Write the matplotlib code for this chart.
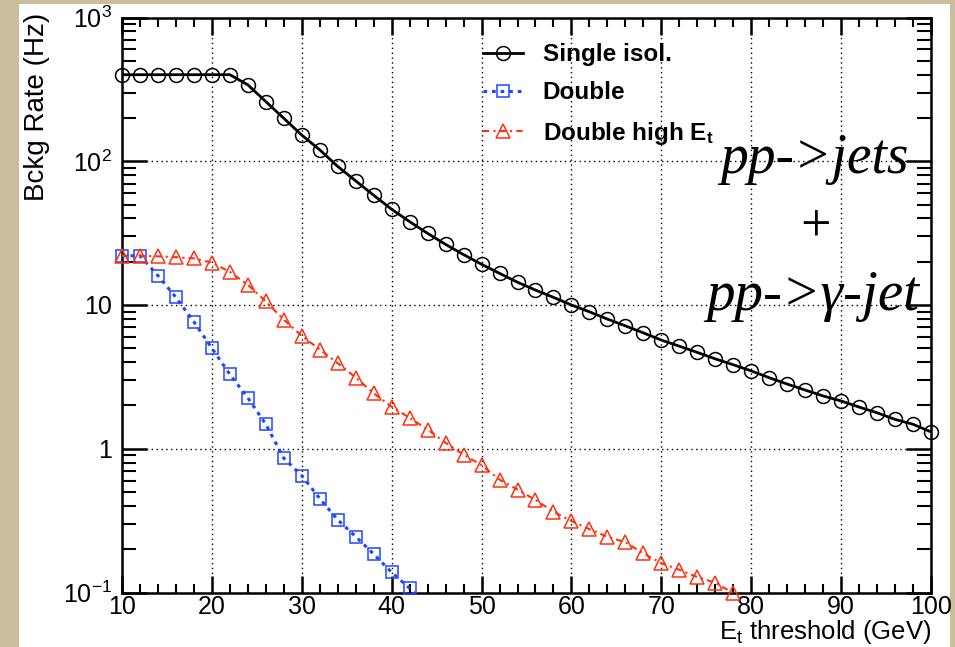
import numpy as np
import matplotlib
matplotlib.use('Agg')
import matplotlib.pyplot as plt
from matplotlib.patches import Rectangle
from matplotlib.ticker import FixedLocator, LogLocator, MultipleLocator, NullFormatter

plt.rcParams['font.family'] = ['Liberation Sans', 'DejaVu Sans']
plt.rcParams['mathtext.fontset'] = 'custom'
plt.rcParams['mathtext.rm'] = 'Liberation Sans'
plt.rcParams['mathtext.bf'] = 'Liberation Sans:bold'
plt.rcParams['mathtext.it'] = 'Liberation Sans:italic'

# thresholds (GeV)
et = np.arange(10, 101, 2)

single_isol = [400, 400, 400, 400, 400, 400, 400, 340, 260, 199,
               152, 120, 92, 73, 58, 46.3, 38, 31.5, 26.4, 22.4,
               19.2, 16.6, 14.4, 12.7, 11.3, 10.0, 8.97, 7.98, 7.16, 6.4,
               5.7, 5.17, 4.68, 4.22, 3.84, 3.48, 3.12, 2.82, 2.56, 2.33,
               2.15, 1.95, 1.78, 1.6, 1.48, 1.31]

double = [22, 22, 16, 11.3, 7.64, 5.0, 3.29, 2.26, 1.48, 0.86,
          0.65, 0.45, 0.32, 0.245, 0.185, 0.138, 0.107, 0.078]

double_high = [22, 22, 21.8, 21.5, 21.1, 19.7, 17.0, 13.8, 10.6, 7.9,
               6.1, 4.9, 3.94, 3.13, 2.43, 1.96, 1.64, 1.36, 1.1, 0.91,
               0.77, 0.61, 0.52, 0.44, 0.365, 0.314, 0.276, 0.244, 0.224, 0.187,
               0.16, 0.144, 0.128, 0.117, 0.099]

ytick_vals = [0.1, 1, 10, 100, 1000]
ytick_labels = [r'$\mathregular{10^{-1}}$', '1', '10', r'$\mathregular{10^{2}}$', r'$\mathregular{10^{3}}$']

BLUE = '#1f45ff'
RED = '#ff3010'

fig = plt.figure(figsize=(9.55, 6.47), dpi=100)
fig.patch.set_facecolor('#cbbd9b')
fig.patches.append(Rectangle((19 / 955, 0), 931 / 955, 643 / 647, transform=fig.transFigure,
                             facecolor='white', edgecolor='none', zorder=-10))

ax = fig.add_axes([122 / 955, 54.5 / 647, 809 / 955, 575 / 647])
ax.set_yscale('log')
ax.set_xlim(10, 100)
ax.set_ylim(0.1, 1000)


def series(x, y, color, ls, lw, marker, ms):
    x = np.asarray(x)
    y = np.asarray(y)
    line, = ax.plot(x, y, color=color, ls=ls, lw=lw, zorder=3)
    keep = y >= 0.098
    mk, = ax.plot(x[keep], y[keep], ls='none', marker=marker, ms=ms, mfc='none',
                  mec=color, mew=1.1, clip_on=False, zorder=4)
    return (line, mk)


h1 = series(et, single_isol, 'black', '-', 2.0, 'o', 10)
h2 = series(et[:len(double)], double, BLUE, (0, (1.2, 1.6)), 2.2, 's', 9)
h3 = series(et[:len(double_high)], double_high, RED, (0, (3, 2, 1, 2)), 1.5, '^', 10)

# axes styling
for s in ax.spines.values():
    s.set_linewidth(1.8)
ax.xaxis.set_major_locator(MultipleLocator(10))
ax.xaxis.set_minor_locator(MultipleLocator(2))
ax.yaxis.set_major_locator(FixedLocator(ytick_vals))
ax.yaxis.set_minor_locator(LogLocator(base=10, subs=np.arange(2, 10)))
ax.yaxis.set_minor_formatter(NullFormatter())
ax.set_yticklabels(ytick_labels)
ax.tick_params(which='both', direction='in', top=True, right=True, labelsize=18)
ax.tick_params(axis='y', which='major', length=18, width=1.8, pad=7)
ax.tick_params(axis='y', which='minor', length=10, width=1.5)
ax.tick_params(axis='x', which='major', length=12, width=1.8, pad=2)
ax.tick_params(axis='x', which='minor', length=6.5, width=1.5)
ax.grid(True, which='major', color='black', ls=(0, (1, 2.5)), lw=1.0)

leg = ax.legend([h1, h2, h3],
                ['Single isol.', 'Double', r'Double high $\mathbf{E_t}$'],
                loc='upper left', bbox_to_anchor=(0.4462, 0.955), frameon=False,
                prop={'weight': 'bold', 'size': 17.5}, handlelength=1.65,
                handletextpad=0.8, labelspacing=0.62, borderpad=0, borderaxespad=0)

serif = ['Liberation Serif', 'DejaVu Serif']
ax.text(0.972, 0.7296, 'pp->jets', transform=ax.transAxes, ha='right', va='baseline',
        family=serif, style='italic', fontsize=40)
ax.text(0.857, 0.636, '+', transform=ax.transAxes, ha='center', va='center',
        family=serif, fontsize=39)
ax.text(0.986, 0.491, 'pp->\u03b3-jet', transform=ax.transAxes, ha='right', va='baseline',
        family=serif, style='italic', fontsize=41)

fig.text(37 / 955, 1 - 13 / 647, 'Bckg Rate (Hz)', rotation=90, ha='center', va='top',
         fontsize=20)
fig.text(931 / 955, 1 - 639 / 647, r'$\mathregular{E_t}$ threshold (GeV)', ha='right',
         va='baseline', fontsize=18.5)

fig.savefig('out.png', dpi=100, facecolor=fig.get_facecolor())
